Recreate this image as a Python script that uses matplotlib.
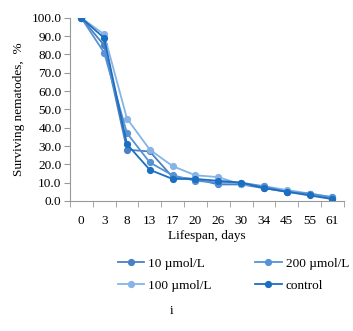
import numpy as np
import matplotlib.pyplot as plt

days = ['0', '3', '8', '13', '17', '20', '26', '30', '34', '45', '55', '61']
umol10 = [100, 85, 28, 27, 13, 12, 9, 9, 7, 5, 4, 1]
umol200 = [100, 81, 37, 21, 14, 11, 10, 10, 8, 5, 4, 2]
umol100 = [100, 91, 45, 28, 19, 14, 13, 9, 8, 6, 4, 2]
control = [100, 89, 31, 17, 12, 12, 11, 10, 7, 5, 3, 1]

plt.rcParams['font.family'] = ['Liberation Serif', 'DejaVu Serif']

fig = plt.figure(figsize=(3.53, 3.31), dpi=100)
ax = fig.add_axes([0.198, 0.393, 0.776, 0.553])

fs = 9.5
x = np.arange(len(days))
ms = 4.2
lw = 1.3
l1, = ax.plot(x, umol10, color='#4a80c4', marker='o', ms=ms, lw=lw, label='10 µmol/L')
l3, = ax.plot(x, umol100, color='#86b4e6', marker='o', ms=ms, lw=lw, label='100 µmol/L')
l2, = ax.plot(x, umol200, color='#5692d4', marker='o', ms=ms, lw=lw, label='200 µmol/L')
l4, = ax.plot(x, control, color='#1c6ec0', marker='o', ms=ms, lw=lw, label='control')

ax.set_xlim(-0.5, len(days) - 0.5)
ax.set_ylim(0, 100)
ax.set_yticks(np.arange(0, 101, 10))
ax.set_yticklabels(['%.1f' % v for v in np.arange(0, 101, 10)], fontsize=fs)
ax.set_xticks(x)
ax.set_xticklabels(days, fontsize=fs)
ax.set_xticks(np.arange(-0.5, len(days)), minor=True)
ax.tick_params(axis='x', which='major', length=0, pad=10)
ax.tick_params(axis='x', which='minor', length=4, color='#999999')
ax.tick_params(axis='y', length=4, color='#999999', pad=2)

for s in ['top', 'right']:
    ax.spines[s].set_visible(False)
for s in ['left', 'bottom']:
    ax.spines[s].set_color('#999999')

ax.set_xlabel('Lifespan, days', fontsize=fs, labelpad=2)
ax.set_ylabel('Surviving nematodes,  %', fontsize=fs, labelpad=5)

fig.legend(handles=[l1, l3, l2, l4], ncol=2, loc='upper left',
           bbox_to_anchor=(0.300, 0.258), frameon=False, fontsize=fs,
           handlelength=2.0, columnspacing=3.3, labelspacing=0.75,
           handletextpad=0.3)

fig.text(0.485, 0.05, 'i', fontsize=fs, ha='center')

plt.savefig('out.png', dpi=100)
